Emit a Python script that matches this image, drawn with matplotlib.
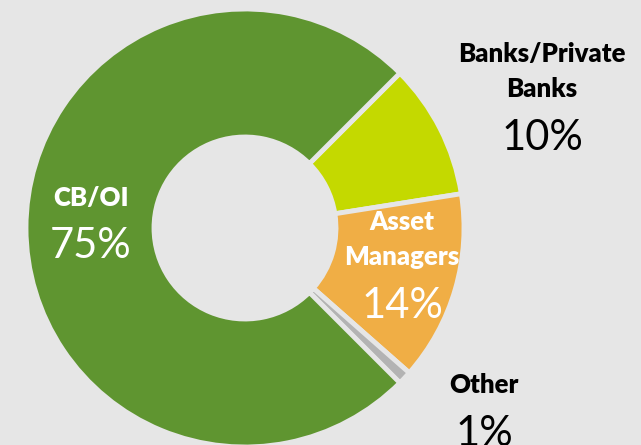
import matplotlib.pyplot as plt

# data, in drawing order (clockwise from the top right)
segments = ['Banks/Private\nBanks', 'Asset\nManagers', 'Other', 'CB/OI']
shares = [10, 14, 1, 75]
colors = ['#c4d900', '#f0ae45', '#b3b3b3', '#5f9530']
text_colors = ['black', 'white', 'black', 'white']

# label anchors in pixels (x centre, baseline of first line, baseline of the percent)
label_pos = [(542, 62, 150), (402, 230, 318), (484, 393, 446), (91, 206, 258)]

bg = '#e6e6e6'
W, H = 641, 445

plt.rcParams['font.family'] = ['Lato', 'DejaVu Sans']

fig = plt.figure(figsize=(W / 100, H / 100), dpi=100, facecolor=bg)
ax = fig.add_axes([0, 0, 1, 1])
ax.set_facecolor(bg)

ax.pie(shares, colors=colors, startangle=45, counterclock=False,
       center=(245, H - 228), radius=219,
       wedgeprops=dict(width=219 - 91, edgecolor=bg, linewidth=3.5))

for name, val, tc, (x, y1, y2) in zip(segments, shares, text_colors, label_pos):
    for i, line in enumerate(name.split('\n')):
        ax.text(x, H - (y1 + 35 * i), line, ha='center', va='baseline',
                fontsize=18.5, fontweight='heavy', color=tc)
    ax.text(x, H - y2, f'{val}%', ha='center', va='baseline',
            fontsize=30, color=tc)

ax.set_xlim(0, W)
ax.set_ylim(0, H)
ax.set_aspect('equal')
ax.axis('off')

fig.savefig('out.png', dpi=100, facecolor=bg)
